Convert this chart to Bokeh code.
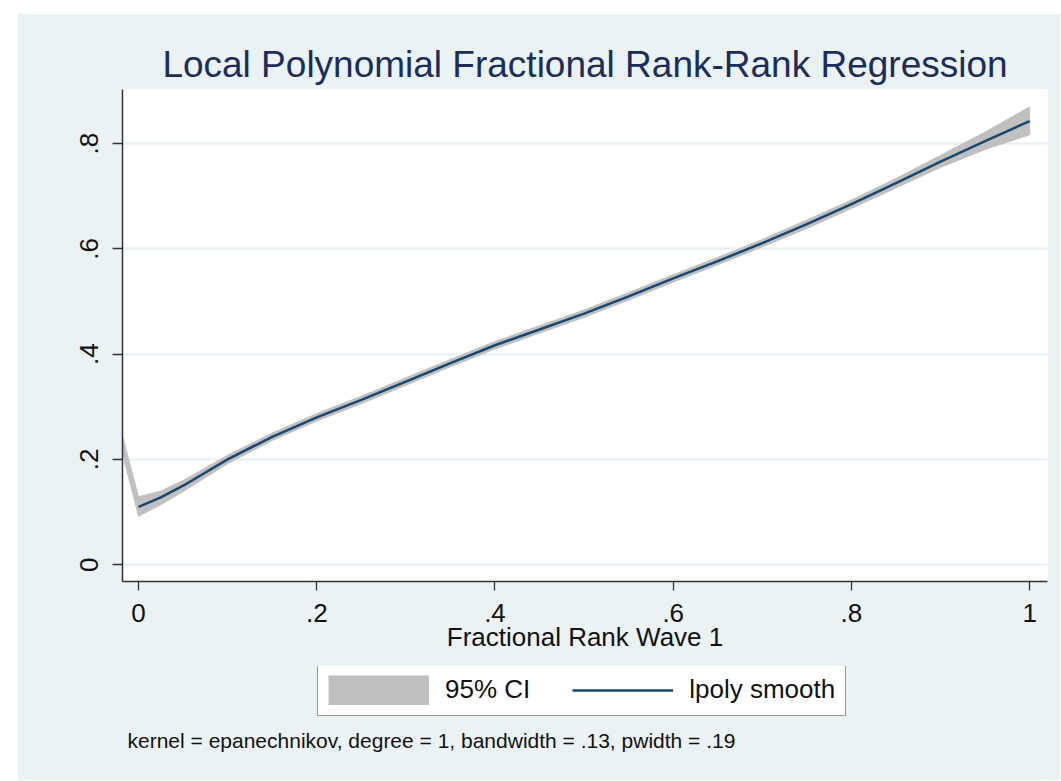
from bokeh.plotting import figure
from bokeh.layouts import column
from bokeh.models import (FixedTicker, Legend, LegendItem, PolyAnnotation, Range1d, Label)
from bokeh.embed import file_html
from bokeh.resources import INLINE

# ---------------- data ----------------
x_vals = [0.0, 0.025, 0.05, 0.1, 0.15, 0.2, 0.25, 0.3, 0.35, 0.4, 0.45,
          0.5, 0.55, 0.6, 0.65, 0.7, 0.75, 0.8, 0.85, 0.9, 0.95, 1.0]
fit    = [0.110, 0.128, 0.150, 0.200, 0.243, 0.280, 0.313, 0.348, 0.383, 0.417, 0.447,
          0.477, 0.510, 0.544, 0.577, 0.611, 0.647, 0.685, 0.725, 0.766, 0.805, 0.843]
ci_high = [0.129, 0.140, 0.160, 0.208, 0.250, 0.287, 0.320, 0.355, 0.390, 0.424, 0.454,
           0.484, 0.517, 0.551, 0.584, 0.618, 0.655, 0.693, 0.734, 0.778, 0.822, 0.870]
ci_low  = [0.092, 0.114, 0.139, 0.192, 0.236, 0.273, 0.306, 0.341, 0.376, 0.410, 0.440,
           0.470, 0.503, 0.537, 0.570, 0.604, 0.639, 0.677, 0.716, 0.755, 0.789, 0.817]
# stray vertex of the CI area (drawn by the original program)
stray_x = [-0.152]
stray_y = [1.10]

x_ticks = [0, 0.2, 0.4, 0.6, 0.8, 1]
x_tick_labels = ["0", ".2", ".4", ".6", ".8", "1"]
y_ticks = [0, 0.2, 0.4, 0.6, 0.8]
y_tick_labels = ["0", ".2", ".4", ".6", ".8"]

title_text = "Local Polynomial Fractional Rank-Rank Regression"
x_title = "Fractional Rank Wave 1"
note_text = "kernel = epanechnikov, degree = 1, bandwidth = .13, pwidth = .19"
legend_labels = ["95% CI", "lpoly smooth"]

# ---------------- styling ----------------
BG = "#EAF2F3"
GRID = "#E6EFF2"
NAVY = "#1A476F"
CI_GRAY = "#C0C0C0"
TITLE_C = "#1C2D59"
AX = "#333333"
TXT = "#111111"
FONT = "Liberation Sans"

# ---------------- main plot ----------------
p = figure(frame_width=925, frame_height=492, output_backend="svg", toolbar_location=None,
           x_range=Range1d(-0.018, 1.020), y_range=Range1d(-0.032, 0.903),
           min_border_left=105, min_border_right=13, min_border_top=76, min_border_bottom=86)
p.background_fill_color = "white"
p.border_fill_color = BG
p.outline_line_color = None

p.title.text = title_text
p.title.align = "center"
p.title.text_font = FONT
p.title.text_font_size = "37px"
p.title.text_font_style = "normal"
p.title.text_color = TITLE_C
p.title.standoff = 9

p.xgrid.visible = False
p.ygrid.ticker = FixedTicker(ticks=y_ticks)
p.ygrid.grid_line_color = GRID
p.ygrid.grid_line_width = 2

for ax in (p.xaxis[0], p.yaxis[0]):
    ax.axis_line_color = AX
    ax.axis_line_width = 1.5
    ax.major_tick_line_color = AX
    ax.major_tick_line_width = 1.3
    ax.major_tick_in = 0
    ax.minor_tick_line_color = None
    ax.major_label_text_font = FONT
    ax.major_label_text_font_size = "26px"
    ax.major_label_text_color = TXT

p.xaxis.ticker = FixedTicker(ticks=x_ticks)
p.xaxis.major_label_overrides = dict(zip(x_ticks, x_tick_labels))
p.xaxis.major_tick_out = 9
p.xaxis.major_label_standoff = 13
p.xaxis.axis_label = x_title
p.xaxis.axis_label_text_font = FONT
p.xaxis.axis_label_text_font_size = "26px"
p.xaxis.axis_label_text_font_style = "normal"
p.xaxis.axis_label_text_color = TXT
p.xaxis.axis_label_standoff = -3

p.yaxis.ticker = FixedTicker(ticks=y_ticks)
p.yaxis.major_label_overrides = dict(zip(y_ticks, y_tick_labels))
p.yaxis.major_tick_out = 10
p.yaxis.major_label_standoff = 14
p.yaxis.major_label_orientation = "vertical"

ci = PolyAnnotation(xs=x_vals + x_vals[::-1] + stray_x,
                    ys=ci_high + ci_low[::-1] + stray_y,
                    xs_units="data", ys_units="data",
                    fill_color=CI_GRAY, fill_alpha=1.0,
                    line_color=CI_GRAY, line_width=1, line_alpha=1.0,
                    level="glyph")
p.add_layout(ci)

fit_r = p.line(x_vals, fit, line_color=NAVY, line_width=2.5, level="annotation")

# ---------------- legend / note strip ----------------
q = figure(width=1043, height=114, output_backend="svg", toolbar_location=None,
           x_range=Range1d(0, 1), y_range=Range1d(0, 1),
           x_axis_location=None, y_axis_location=None, min_border=0)
q.margin = (-1, 0, 0, 0)
q.background_fill_color = BG
q.border_fill_color = BG
q.outline_line_color = None
q.grid.visible = False

ci_key = q.line(x=[float("nan")], y=[float("nan")], line_color=CI_GRAY,
                line_width=30, line_cap="butt")
fit_key = q.line(x=[float("nan")], y=[float("nan")], line_color=NAVY, line_width=2.5)

legend = Legend(items=[LegendItem(label=legend_labels[0], renderers=[ci_key]),
                       LegendItem(label=legend_labels[1], renderers=[fit_key])],
                location=(195, 64), orientation="horizontal",
                margin=0, padding=10, spacing=42, label_standoff=16,
                glyph_width=101, glyph_height=30,
                label_text_font=FONT, label_text_font_size="26px",
                label_text_color=TXT,
                border_line_color=AX, border_line_width=1.3,
                background_fill_color="white", background_fill_alpha=1.0)
q.add_layout(legend)

note = Label(x=5, y=40, x_units="screen", y_units="screen", text=note_text,
             text_font=FONT, text_font_size="21px", text_color=TXT,
             text_baseline="middle")
q.add_layout(note)

layout = column(p, q, spacing=0)
layout.margin = (13, 0, 0, 17)

open("out.html", "w").write(file_html(layout, INLINE))
